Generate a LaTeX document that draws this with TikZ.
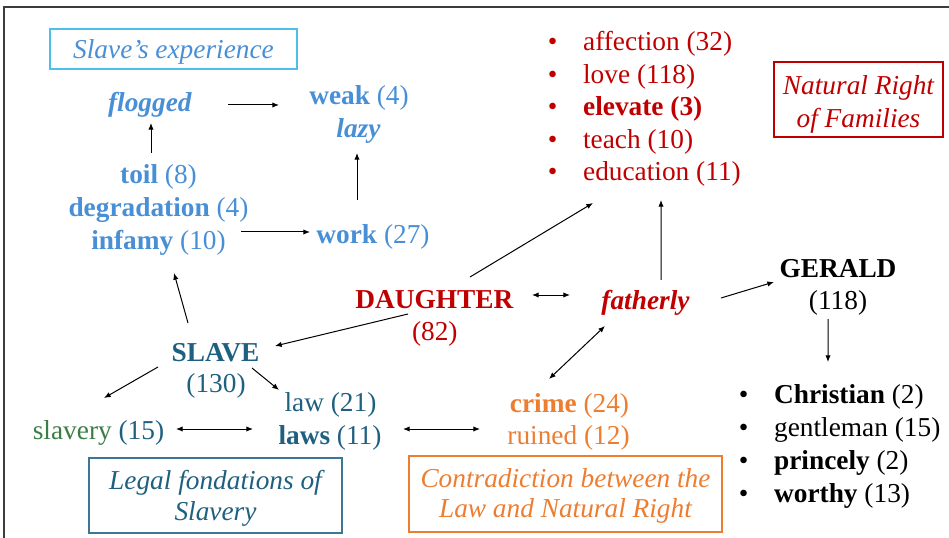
\documentclass[tikz,border=0pt]{standalone}
\usepackage{fontspec}
\setmainfont{Liberation Serif}
\usetikzlibrary{arrows.meta,calc}

\definecolor{expblue}{RGB}{72,143,214}
\definecolor{expcyan}{RGB}{80,190,235}
\definecolor{lawteal}{RGB}{31,96,128}
\definecolor{lawbox}{RGB}{60,120,150}
\definecolor{slavgreen}{RGB}{60,125,70}
\definecolor{famred}{RGB}{192,0,0}
\definecolor{crimeor}{RGB}{237,125,49}
\definecolor{framegray}{RGB}{60,60,60}

\tikzset{every picture/.style={line width=0.75pt}}
\tikzset{
  txt/.style={inner sep=0pt, font=\fontsize{20.5}{24.75}\selectfont, text height=14pt, text depth=4.5pt},
  sxp/.style={txt, text=expblue},
  lgl/.style={txt, text=lawteal},
  fam/.style={txt, text=famred},
  ctr/.style={txt, text=crimeor},
  gen/.style={txt, text=black},
  tagbox/.style={inner sep=0pt, line width=1pt, align=center, font=\fontsize{20.5}{23}\selectfont\itshape},
  arr/.style={-{Latex[length=5pt,width=4pt]}},
  dbl/.style={{Latex[length=5pt,width=4pt]}-{Latex[length=5pt,width=4pt]}}
}
\newcommand{\bul}{\makebox[26.5pt][l]{\textbullet}}

\begin{document}
\begin{tikzpicture}[x=0.75pt,y=0.75pt,yscale=-1,xscale=1]
\useasboundingbox (0,0) rectangle (949,538);

%Frame
\draw [line width=1.5pt, color=framegray] (4,538) -- (4,7) -- (949,7) ;

%Slave's experience
\node [tagbox, draw=expcyan, text=expblue, minimum width=185.25pt, minimum height=30pt] (sexp) at (173.5,49) {\rule{0pt}{18.7pt}Slave’s experience};
\node [sxp] (flog) at (150,105) {\textbf{\textit{flogged}}};
\node [sxp] (weak) at (359,98) {\textbf{weak} (4)};
\node [sxp] (lazy) at (358.5,131) {\textbf{\textit{lazy}}};
\node [sxp] (toil) at (158.5,177) {\textbf{toil} (8)};
\node [sxp] (deg) at (158.5,210) {\textbf{degradation} (4)};
\node [sxp] (inf) at (158.5,243) {\textbf{infamy} (10)};
\node [sxp] (work) at (373,237) {\textbf{work} (27)};

%Legal fondations
\node [lgl] (slave) at (215.5,355) {\textbf{SLAVE}};
\node [lgl] (snum) at (216,386) {(130)};
\node [lgl] (slavery) at (98.5,433) {\textcolor{slavgreen}{slavery} (15)};
\node [lgl] (law) at (330.5,405) {law (21)};
\node [lgl] (laws) at (330,438) {\textbf{laws} (11)};
\node [tagbox, draw=lawbox, text=lawteal, minimum width=189.75pt, minimum height=56.25pt] (legal) at (215.5,495.5) {\rule{0pt}{18.7pt}Legal fondations of\\Slavery};

%Natural right of families
\node [fam] (dau) at (434.5,302) {\textbf{DAUGHTER}};
\node [fam] (dnum) at (434.8,334) {(82)};
\node [fam] (fath) at (645.5,303) {\textbf{\textit{fatherly}}};
\node [fam, anchor=base west] (aff) at (547.3,50.5) {\bul affection (32)};
\node [fam, anchor=base west] (love) at (547.3,83.1) {\bul love (118)};
\node [fam, anchor=base west] (elev) at (547.3,115.7) {\bul\textbf{elevate (3)}};
\node [fam, anchor=base west] (teach) at (547.3,148.3) {\bul teach (10)};
\node [fam, anchor=base west] (edu) at (547.3,180.9) {\bul education (11)};
\node [tagbox, draw=famred, text=famred, minimum width=126.75pt, minimum height=56.25pt, font=\fontsize{20.5}{24.75}\selectfont\itshape] (natr) at (858.5,99.5) {\rule{0pt}{21.7pt}Natural Right\\of Families};

%Contradiction
\node [ctr] (crime) at (569.5,406) {\textbf{crime} (24)};
\node [ctr] (ruin) at (568.5,438) {ruined (12)};
\node [tagbox, draw=crimeor, text=crimeor, minimum width=234.75pt, minimum height=57pt] (contra) at (565.5,494) {\rule{0pt}{17.2pt}Contradiction between the\\Law and Natural Right};

%Gerald
\node [gen] (ger) at (838,271) {\textbf{GERALD}};
\node [gen] (gnum) at (838,303) {(118)};
\node [gen, anchor=base west] (chr) at (738.3,403.5) {\bul\textbf{Christian} (2)};
\node [gen, anchor=base west] (gent) at (738.3,436.5) {\bul gentleman (15)};
\node [gen, anchor=base west] (prin) at (738.3,469.5) {\bul\textbf{princely} (2)};
\node [gen, anchor=base west] (wor) at (738.3,502.5) {\bul\textbf{worthy} (13)};

%Connectors
\draw [arr] ($(flog)+(78,0)$) -- ($(weak)+(-80,7)$) ;
\draw [arr] ($(toil)+(-7.5,-24)$) -- ($(flog)+(1,18)$) ;
\draw [arr] ($(work)+(-16,-37)$) -- ($(lazy)+(-1.5,22)$) ;
\draw [arr] ($(inf)+(82.5,-11)$) -- ($(work)+(-63,-5)$) ;
\draw [arr] ($(slave)+(-27.5,-32)$) -- ($(inf)+(15.5,30)$) ;
\draw [arr] ($(dau)+(-26.5,12)$) -- ($(slave)+(59.5,-9)$) ;
\draw [arr] ($(slave)+(-57.5,12)$) -- ($(slavery)+(5.5,-35)$) ;
\draw [arr] ($(slave)+(36.5,13)$) -- ($(law)+(-51.5,-15)$) ;
\draw [dbl] ($(slavery)+(77.5,-4)$) -- ($(laws)+(-77,-9)$) ;
\draw [dbl] ($(laws)+(73,-9)$) -- ($(ruin)+(-88.5,-9)$) ;
\draw [arr] ($(dau)+(35.5,-25)$) -- ($(edu.base west)+(45.7,22.1)$) ;
\draw [arr] ($(fath)+(15.5,-23)$) -- ($(edu.base west)+(113.7,19.1)$) ;
\draw [dbl] ($(dau)+(97.5,-7)$) -- ($(fath)+(-75.5,-8)$) ;
\draw [arr] ($(fath)+(75.5,-5)$) -- ($(ger)+(-64,11)$) ;
\draw [arr] ($(gnum)+(-10,16)$) -- ($(chr.base west)+(89.7,-41.5)$) ;
\draw [dbl] ($(fath)+(-40.5,23)$) -- ($(crime)+(-20.5,-27)$) ;

\end{tikzpicture}
\end{document}
